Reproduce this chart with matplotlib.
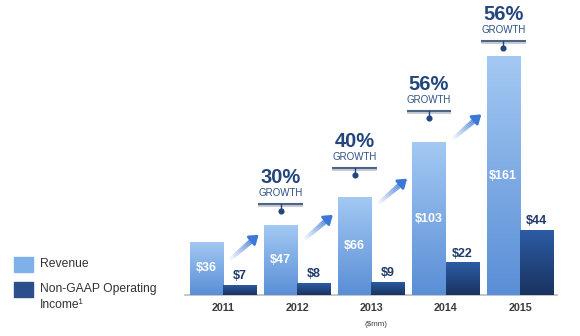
import matplotlib
matplotlib.use('Agg')
import matplotlib.pyplot as plt
import numpy as np
from matplotlib.colors import LinearSegmentedColormap
from matplotlib.collections import LineCollection
from matplotlib.patches import Rectangle
from matplotlib.transforms import offset_copy

# data ($mm)
years = ['2011', '2012', '2013', '2014', '2015']
revenue = [36, 47, 66, 103, 161]
op_income = [7, 8, 9, 22, 44]
growth = ['', '30%', '40%', '56%', '56%']
# pixel gap between callout dot and revenue bar top
callout_gap = [0, 14, 22, 24, 8]

plt.rcParams['font.family'] = ['Liberation Sans', 'DejaVu Sans']

fig = plt.figure(figsize=(5.8, 3.36), dpi=100)
ax = fig.add_axes([180 / 580, 41 / 336, 390 / 580, 295 / 336])

x = np.arange(len(years))
w = 0.45

rev_cmap = LinearSegmentedColormap.from_list('rev', ['#5a8ed6', '#a3c9f3'])
op_cmap = LinearSegmentedColormap.from_list('op', ['#19335f', '#2d5ca6'])

rev_bars = ax.bar(x - w / 2, revenue, w, color='#7fb0ea', zorder=2)
op_bars = ax.bar(x + w / 2, op_income, w, color='#2b4f8c', zorder=2)

# vertical gradient fill for each bar
grad = np.linspace(0, 1, 100).reshape(-1, 1)
for bars, cmap in [(rev_bars, rev_cmap), (op_bars, op_cmap)]:
    for b in bars:
        x0, y0 = b.get_x(), b.get_y()
        im = ax.imshow(grad, extent=[x0, x0 + b.get_width(), y0, y0 + b.get_height()],
                       origin='lower', aspect='auto', cmap=cmap, zorder=3)
        im.set_clip_path(b)

# labels
for i in range(len(years)):
    ax.text(x[i] - w / 2, revenue[i] / 2, f'${revenue[i]}', ha='center', va='center',
            color='white', fontsize=9, fontweight='bold', zorder=5)
    ax.annotate(f'${op_income[i]}', (x[i] + w / 2, op_income[i]), xytext=(0, 2),
                textcoords='offset points', ha='center', va='bottom',
                color='#1f3a68', fontsize=9, fontweight='bold')
    ax.annotate(years[i], (x[i], 0), xytext=(0, -9.4), textcoords='offset points',
                ha='center', va='center', color='#3a3a3a', fontsize=7.7,
                fontweight='bold', annotation_clip=False)

# growth callouts
for i in range(1, len(years)):
    cx, top = x[i] - w / 2, revenue[i]
    dot = callout_gap[i]
    line = dot + 7
    tr_dot = offset_copy(ax.transData, fig=fig, y=dot, units='dots')
    tr_line = offset_copy(ax.transData, fig=fig, y=line, units='dots')
    tr_line_sh = offset_copy(ax.transData, fig=fig, y=line - 1.6, units='dots')
    half = 0.30
    ax.plot([cx - half, cx + half], [top, top], transform=tr_line_sh,
            color='#c5cbd4', lw=1.4, solid_capstyle='butt', clip_on=False)
    ax.plot([cx - half, cx + half], [top, top], transform=tr_line,
            color='#4f6484', lw=1.5, solid_capstyle='butt', clip_on=False)
    ax.plot([cx, cx], [top, top + 7 / 1.484], transform=tr_dot, color='#23467f',
            lw=1.0, clip_on=False)
    ax.plot([cx], [top], transform=tr_dot, marker='o', ms=3.4,
            color='#23467f', clip_on=False)
    ax.annotate(growth[i], (cx, top), xytext=(0, (line + 27) * 0.72),
                textcoords='offset points', ha='center', va='center',
                color='#23467f', fontsize=14.5, fontweight='bold', annotation_clip=False)
    ax.annotate('GROWTH', (cx, top), xytext=(0, (line + 11.5) * 0.72),
                textcoords='offset points', ha='center', va='center',
                color='#2f5185', fontsize=7, annotation_clip=False)

# gradient arrows between years
fade = LinearSegmentedColormap.from_list('fade', ['#ffffff', '#3c78d4'])
for i in range(len(years) - 1):
    y1 = revenue[i] + (revenue[i + 1] - revenue[i]) * 0.3
    y0 = y1 - 16
    xs = np.linspace(x[i] + 0.08, x[i] + 0.42, 30)
    ys = np.linspace(y0, y1 - 1.3, 30)
    pts = np.column_stack([xs, ys]).reshape(-1, 1, 2)
    segs = np.concatenate([pts[:-1], pts[1:]], axis=1)
    lc = LineCollection(segs, cmap=fade, linewidths=np.linspace(2.5, 4.0, 29), zorder=4)
    lc.set_array(np.linspace(0.05, 1, 29))
    ax.add_collection(lc)
    ax.annotate('', (x[i] + 0.48, y1 + 1.3), xytext=(x[i] + 0.40, y1 - 2.0),
                arrowprops=dict(arrowstyle='-|>,head_length=0.5,head_width=0.35',
                                color='#3c78d4', lw=2.0, shrinkA=0, shrinkB=0), zorder=5)

ax.set_xlim(-0.579, 4.674)
ax.set_ylim(0, 198.8)
for s in ['top', 'right', 'left']:
    ax.spines[s].set_visible(False)
ax.spines['bottom'].set_bounds(-0.51, 4.5)
ax.spines['bottom'].set_color('#bbbbbb')
ax.spines['bottom'].set_linewidth(1.2)
ax.set_xticks([])
ax.set_yticks([])
ax.patch.set_alpha(0)

fig.text(376 / 580, 1 - 325 / 336, '($mm)', ha='center', va='center', fontsize=5.8, color='#444444')

# legend
fig.patches.append(Rectangle((14 / 580, 1 - 272 / 336), 19 / 580, 15 / 336,
                             transform=fig.transFigure, color='#7fb0ea'))
fig.patches.append(Rectangle((14 / 580, 1 - 297 / 336), 19 / 580, 15 / 336,
                             transform=fig.transFigure, color='#2b4f8c'))
fig.text(40 / 580, 1 - 264 / 336, 'Revenue', va='center', fontsize=8.7, color='#333333')
fig.text(40 / 580, 1 - 283 / 336, 'Non-GAAP Operating\nIncome\u00b9', va='top',
         fontsize=8.7, color='#333333', linespacing=1.45)

fig.savefig('out.png', dpi=100)
